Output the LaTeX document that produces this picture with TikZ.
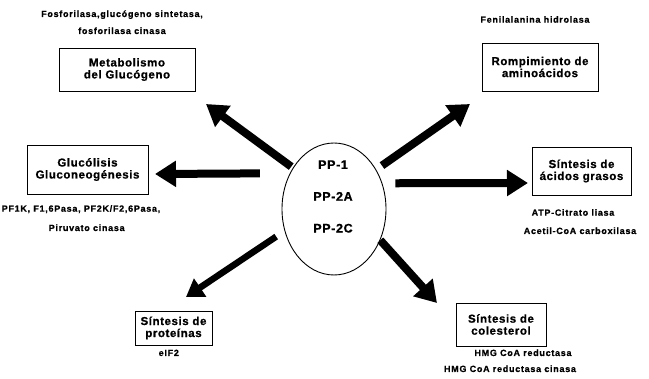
\documentclass[tikz,border=0pt]{standalone}
\usepackage{fontspec}
\setmainfont{Liberation Sans}
\usepackage{tikz}
\usetikzlibrary{positioning, shapes.geometric, arrows.meta}
\newfontfamily\enzymeFont[LetterSpace=8, BoldFeatures={FakeBold=0.6}]{Liberation Sans}
\newfontfamily\boxFont[LetterSpace=5, BoldFeatures={FakeBold=0.8}]{Liberation Sans}
\tikzstyle{diagram} = [x = 1pt, y = -1pt]
\tikzstyle{pathwayBox} = [draw, line width=0.9pt, align=center, inner sep=0pt, font=\boxFont\bfseries\fontsize{11.5}{12}\selectfont]
\tikzstyle{enzymeText} = [anchor=base, inner sep=0pt, font=\enzymeFont\bfseries\fontsize{9}{10}\selectfont]
\tikzstyle{phosphatase} = [draw, ellipse, line width=0.9pt, minimum width=104pt, minimum height=132pt, inner sep=0pt]
\tikzstyle{ppText} = [align=center, inner sep=0pt, font=\boxFont\bfseries\fontsize{12.5}{31.8}\selectfont]
\tikzstyle{bigArrow} = [line width=8pt, -{Triangle[length=21pt, width=25pt]}]
\tikzstyle{slimArrow} = [line width=6.5pt, -{Triangle[length=17pt, width=21pt]}]
\newcommand{\pathwayBox}[5]{\node [pathwayBox, minimum width=#3pt, minimum height=#4pt] (#1) at (#2) {#5};}
\newcommand{\enzyme}[3]{\node [enzymeText] (#1) at (#2) {#3};}
\newcommand{\activityArrow}[4]{\draw [#4, shorten <= #3pt] (pp.#1) -- (#2);}

\begin{document}
\begin{tikzpicture}[diagram]
  \useasboundingbox (0,0) rectangle (649,379);

  \node [phosphatase] (pp) at (334,209) {};
  \node [ppText] (ppNames) at (333,196.5) {PP-1\\PP-2A\\PP-2C};

  \pathwayBox{meta}{127,69.5}{136}{43}{Metabolismo\\del Glucógeno}
  \pathwayBox{romp}{540,67}{116}{48}{Rompimiento de\\aminoácidos}
  \pathwayBox{gluc}{87.5,169.5}{121}{49}{Glucólisis\\Gluconeogénesis}
  \pathwayBox{acid}{581.5,171}{99}{48}{Síntesis de\\ácidos grasos}
  \pathwayBox{prot}{173.5,328}{77}{34}{Síntesis de\\proteínas}
  \pathwayBox{cole}{501,324.5}{90}{43}{Síntesis de\\colesterol}

  \enzyme{metaEnzA}{122,17}{Fosforilasa,glucógeno sintetasa,}
  \enzyme{metaEnzB}{122,34}{fosforilasa cinasa}
  \enzyme{rompEnz}{535,22.7}{Fenilalanina hidrolasa}
  \enzyme{glucEnzA}{81,211.7}{PF1K, F1,6Pasa, PF2K/F2,6Pasa,}
  \enzyme{glucEnzB}{86.7,231}{Piruvato cinasa}
  \enzyme{acidEnzA}{573,215.7}{ATP-Citrato liasa}
  \enzyme{acidEnzB}{580,234}{Acetil-CoA carboxilasa}
  \enzyme{protEnz}{168.8,356}{eIF2}
  \enzyme{coleEnzA}{523,356}{HMG CoA reductasa}
  \enzyme{coleEnzB}{510,372}{HMG CoA reductasa cinasa}

  \coordinate (metaTip) at (206,104);
  \coordinate (rompTip) at (470,104);
  \coordinate (glucTip) at (155,174);
  \coordinate (acidTip) at (528,183);
  \coordinate (protTip) at (186,297);
  \coordinate (coleTip) at (437,303);

  \activityArrow{135.7}{metaTip}{2}{bigArrow}
  \activityArrow{43.8}{rompTip}{7}{bigArrow}
  \activityArrow{141.6}{glucTip}{30}{bigArrow}
  \activityArrow{28.5}{acidTip}{13}{bigArrow}
  \activityArrow{204.9}{protTip}{10}{slimArrow}
  \activityArrow{-34.6}{coleTip}{0}{bigArrow}
\end{tikzpicture}
\end{document}
